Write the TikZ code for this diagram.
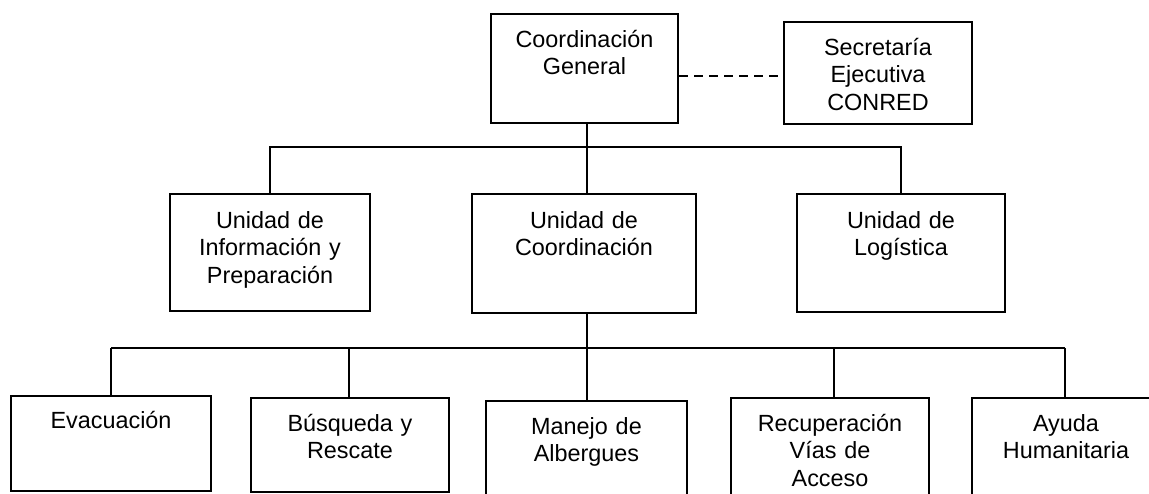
\documentclass[tikz,border=0pt]{standalone}
\usepackage{fontspec}
\setmainfont{Liberation Sans}
\begin{document}
\begin{tikzpicture}[x=0.5pt,y=-0.5pt,
  box/.style={draw, line width=1pt, inner sep=0pt},
  lbl/.style={anchor=base, inner sep=0pt, text width=95pt, align=center,
    font=\fontsize{11.7}{13.9}\selectfont},
  conn/.style={line width=0.9pt},
  dashconn/.style={line width=0.9pt, dash pattern=on 4.5pt off 3pt}]
\useasboundingbox (0,0) rectangle (1149,493);
% boxes
\node[box, minimum width=93.5pt, minimum height=54.5pt] (cg) at (584.5,68.5) {};
\node[box, minimum width=94pt, minimum height=51pt] (sec) at (878,73) {};
\node[box, minimum width=100pt, minimum height=58.5pt] (u1) at (270,252.5) {};
\node[box, minimum width=112pt, minimum height=59.5pt] (u2) at (584,253.5) {};
\node[box, minimum width=104pt, minimum height=59pt] (u3) at (901,253) {};
\node[box, minimum width=100pt, minimum height=47.5pt] (b1) at (111,443.5) {};
\node[box, minimum width=99pt, minimum height=47pt] (b2) at (350,445) {};
\node[box, minimum width=100.5pt, minimum height=52pt] (b3) at (586.5,453) {};
\node[box, minimum width=99pt, minimum height=53.5pt] (b4) at (830,451.5) {};
\node[box, minimum width=94pt, minimum height=53.5pt] (b5) at (1066,451.5) {};
% texts
\node[lbl] (cgt) at (584.5,47) {Coordinación\\General};
\node[lbl] (sect) at (878,55) {Secretaría\\Ejecutiva\\CONRED};
\node[lbl] (u1t) at (270,228) {Unidad de\\Información y\\Preparación};
\node[lbl] (u2t) at (584,228) {Unidad de\\Coordinación};
\node[lbl] (u3t) at (901,228) {Unidad de\\Logística};
\node[lbl] (b1t) at (111,428) {Evacuación};
\node[lbl] (b2t) at (350,431) {Búsqueda y\\Rescate};
\node[lbl] (b3t) at (586.5,434) {Manejo de\\Albergues};
\node[lbl] (b4t) at (830,431) {Recuperación\\Vías de\\Acceso};
\node[lbl] (b5t) at (1066,431) {Ayuda\\Humanitaria};
% dashed link
\coordinate (dy) at (0,76);
\draw[dashconn] (cg.east |- dy) -- (sec.west |- dy);
% upper tree
\coordinate (j1) at (587,147);
\draw[conn] (cg.south -| j1) -- (j1);
\draw[conn] (u1.north) |- (j1) -| (u3.north);
\draw[conn] (j1) -- (u2.north -| j1);
% lower tree
\coordinate (j2) at (587,348);
\coordinate (d1) at (111,348);
\coordinate (d2) at (349,348);
\coordinate (d4) at (834,348);
\coordinate (d5) at (1065,348);
\draw[conn] (u2.south -| j2) -- (j2);
\draw[conn] (d1) -- (d5);
\draw[conn] (d1) -- (b1.north -| d1);
\draw[conn] (d2) -- (b2.north -| d2);
\draw[conn] (j2) -- (b3.north -| j2);
\draw[conn] (d4) -- (b4.north -| d4);
\draw[conn] (d5) -- (b5.north -| d5);
\end{tikzpicture}
\end{document}
